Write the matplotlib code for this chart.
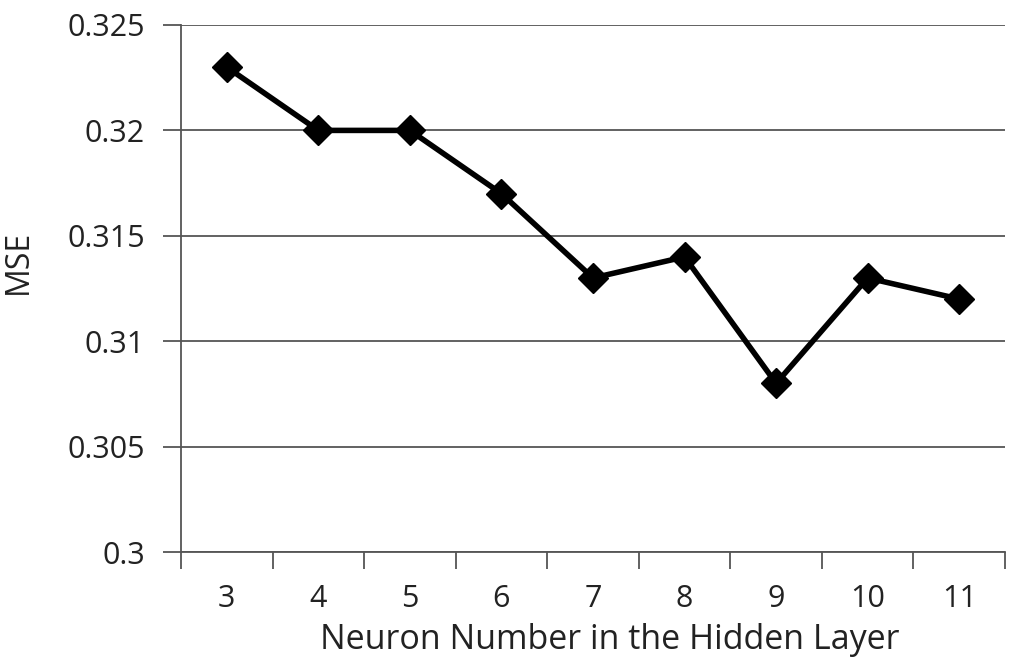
import matplotlib.pyplot as plt
import numpy as np

# Data
neurons = ['3', '4', '5', '6', '7', '8', '9', '10', '11']
mse = [0.323, 0.320, 0.320, 0.317, 0.313, 0.314, 0.308, 0.313, 0.312]
yticks = [0.3, 0.305, 0.31, 0.315, 0.32, 0.325]
ytick_labels = ['0.3', '0.305', '0.31', '0.315', '0.32', '0.325']

plt.rcParams['font.family'] = ['Open Sans', 'DejaVu Sans']

fig = plt.figure(figsize=(10.24, 6.66), dpi=100)
left, right, top, bottom = 181, 1005, 25, 552
ax = fig.add_axes([left/1024, 1 - bottom/666, (right - left)/1024, (bottom - top)/666])

x = np.arange(len(neurons))
ax.plot(x, mse, color='black', linewidth=4, marker='D', markersize=15, zorder=3)

ax.set_xlim(-0.5, len(neurons) - 0.5)
ax.set_ylim(0.3, 0.325)

ax.set_yticks(yticks)
ax.set_yticklabels(ytick_labels, fontsize=22, color='#222222')
ax.yaxis.grid(True, color='#555555', linewidth=1.3)
ax.tick_params(axis='y', length=13, width=1.3, color='#555555', pad=13)

ax.set_xticks(x)
ax.set_xticklabels(neurons, fontsize=22, color='#222222')
ax.set_xticks(np.arange(-0.5, len(neurons)), minor=True)
ax.tick_params(axis='x', which='major', length=0, pad=23)
ax.tick_params(axis='x', which='minor', length=12, width=1.3, color='#555555')

for side in ['top', 'right']:
    ax.spines[side].set_visible(False)
for side in ['left', 'bottom']:
    ax.spines[side].set_color('#555555')
    ax.spines[side].set_linewidth(1.3)

# axis titles centred where the reference puts them
ax.set_xlabel('Neuron Number in the Hidden Layer', fontsize=24.5, color='#222222', va='center')
ax.xaxis.set_label_coords((610 - left)/(right - left), -(640 - bottom)/(bottom - top))
ax.set_ylabel('MSE', fontsize=23, color='#222222', va='center')
ax.yaxis.set_label_coords(-(left - 18)/(right - left), (bottom - 262)/(bottom - top))

fig.savefig('out.png', dpi=100)
